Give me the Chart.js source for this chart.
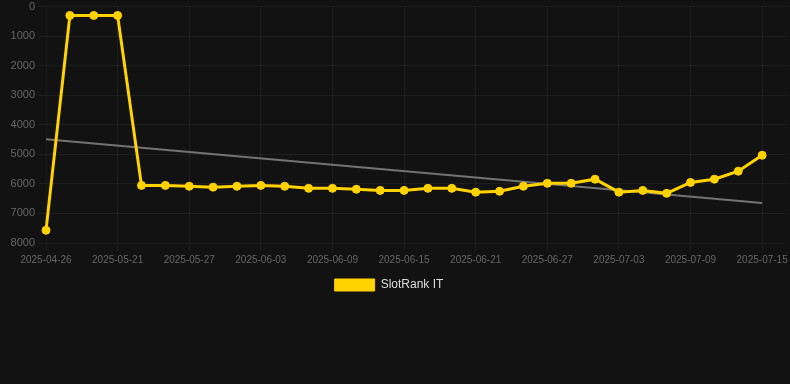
<!DOCTYPE html>
<html>
<head>
<meta charset="utf-8">
<script src="https://cdn.jsdelivr.net/npm/chart.js@4"></script>
<style>
    html, body { margin: 0; padding: 0; background: #121212; overflow: hidden; }
    #wrap { width: 806px; height: 304px; position: relative; margin-top: -3px; margin-left: -14px; }
</style>
</head>
<body>
<div id="wrap"><canvas id="rankChart"></canvas></div>
<script>
const dates = [
    "2025-04-26", "2025-05-17", "2025-05-19", "2025-05-21", "2025-05-23", "2025-05-25",
    "2025-05-27", "2025-05-29", "2025-06-01", "2025-06-03", "2025-06-05", "2025-06-07",
    "2025-06-09", "2025-06-11", "2025-06-13", "2025-06-15", "2025-06-17", "2025-06-19",
    "2025-06-21", "2025-06-23", "2025-06-25", "2025-06-27", "2025-06-29", "2025-07-01",
    "2025-07-03", "2025-07-05", "2025-07-07", "2025-07-09", "2025-07-11", "2025-07-13",
    "2025-07-15", ""
];

const rankIT = [
    7570, 300, 300, 300, 6050, 6050, 6080, 6110, 6080, 6050, 6080, 6150,
    6150, 6180, 6220, 6220, 6150, 6150, 6280, 6250, 6080, 5980, 5980, 5840,
    6280, 6220, 6320, 5950, 5840, 5570, 5030
];

// trend line, only the two ends are given
const trendStart = 4490;
const trendEnd = 6650;

const yTicks = [0, 1000, 2000, 3000, 4000, 5000, 6000, 7000, 8000];

document.addEventListener("DOMContentLoaded", () => {
    const trend = rankIT.map(() => null);
    trend[0] = trendStart;
    trend[rankIT.length - 1] = trendEnd;

    const ctx = document.getElementById("rankChart").getContext("2d");
    new Chart(ctx, {
        type: "line",
        data: {
            labels: dates,
            datasets: [
                {
                    label: "SlotRank IT",
                    data: rankIT,
                    borderColor: "#ffd200",
                    backgroundColor: "#ffd200",
                    borderWidth: 3,
                    pointRadius: 4,
                    pointBorderWidth: 1,
                    pointHoverRadius: 5,
                    tension: 0,
                    fill: false
                },
                {
                    label: "trend",
                    data: trend,
                    spanGaps: true,
                    borderColor: "rgba(140,140,140,0.8)",
                    borderWidth: 2,
                    pointRadius: 0,
                    fill: false
                }
            ]
        },
        options: {
            responsive: true,
            maintainAspectRatio: false,
            animation: false,
            plugins: {
                legend: {
                    position: "bottom",
                    labels: {
                        color: "#dddddd",
                        boxWidth: 40,
                        boxHeight: 12,
                        font: { family: "Liberation Sans, Arial", size: 12 },
                        filter: (item) => item.text !== "trend",
                        generateLabels: (chart) => {
                            const items = Chart.defaults.plugins.legend.labels.generateLabels(chart);
                            items.forEach((it) => { it.lineWidth = 1; });
                            return items;
                        }
                    }
                },
                tooltip: { enabled: false }
            },
            scales: {
                x: {
                    grid: { color: "rgba(255,255,255,0.05)" },
                    ticks: {
                        color: "#666666",
                        maxRotation: 0,
                        font: { family: "Liberation Sans, Arial", size: 10 }
                    }
                },
                y: {
                    reverse: true,
                    min: yTicks[0],
                    max: yTicks[yTicks.length - 1],
                    grid: { color: "rgba(255,255,255,0.05)" },
                    afterBuildTicks: (axis) => { axis.ticks = yTicks.map((v) => ({ value: v })); },
                    afterFit: (axis) => { axis.width = 60; },
                    ticks: {
                        color: "#666666",
                        font: { family: "Liberation Sans, Arial", size: 11 },
                        callback: (v) => String(v)
                    }
                }
            }
        }
    });
});
</script>
</body>
</html>
